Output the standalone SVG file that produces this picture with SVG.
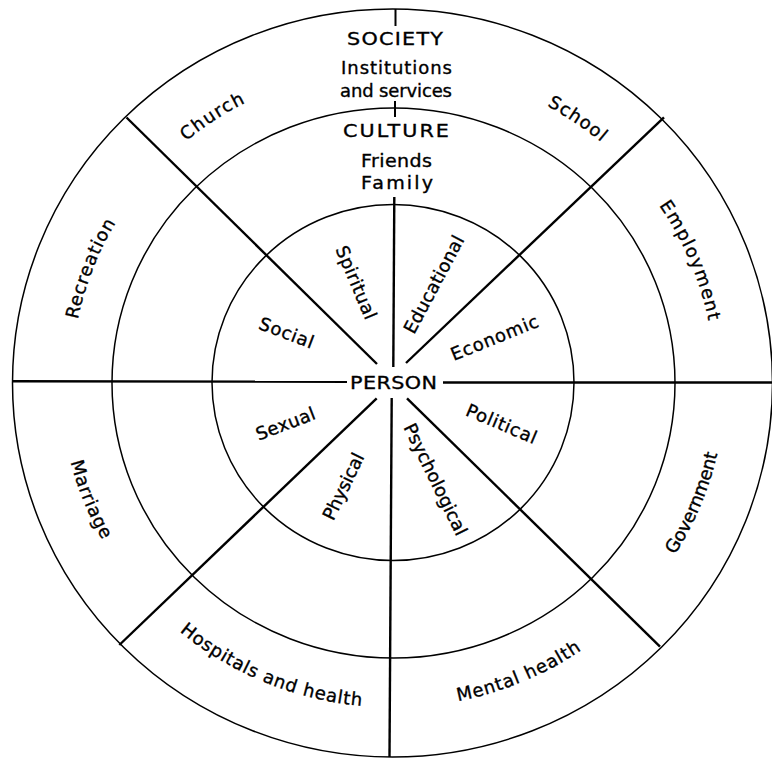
<svg xmlns="http://www.w3.org/2000/svg" width="772" height="761" viewBox="0 0 772 761">
  <style>
    .ring { fill: none; stroke: #000; stroke-width: 1.5; }
    .rule { fill: none; stroke: #000; stroke-width: 2.4; }
    .tick { fill: none; stroke: #000; stroke-width: 2; }
    text { font-family: "DejaVu Sans", "Liberation Sans", sans-serif; font-size: 18px; fill: #000; stroke: #000; stroke-width: 0.35px; text-anchor: middle; }
  </style>
  <defs>
    <!-- baseline arcs for the outer ring labels (upper ones run clockwise, lower ones anticlockwise) -->
    <path id="arc-church" d="M72.3,403.9 A321.5,314.5 0 0 1 533.9,99.3"/>
    <path id="arc-school" d="M257.1,97.0 A321.5,314.5 0 0 1 713.3,409.4"/>
    <path id="arc-recreation" d="M144.2,581.2 A321.5,314.5 0 0 1 341.0,71.6"/>
    <path id="arc-employment" d="M436.4,70.4 A321.5,314.5 0 0 1 647.2,574.6"/>
    <path id="arc-marriage" d="M133.1,178.9 A332.5,325.5 0 0 0 343.3,703.8"/>
    <path id="arc-government" d="M438.7,704.4 A332.5,325.5 0 0 0 655.4,182.0"/>
    <path id="arc-hospitals" d="M63.1,422.2 A332.5,325.5 0 0 0 593.6,641.6"/>
    <path id="arc-mental" d="M194.3,643.0 A332.5,325.5 0 0 0 723.2,420.0"/>
  </defs>

  <rect width="772" height="761" fill="#fff"/>

  <!-- outer ring: society -->
  <g id="society">
    <ellipse class="ring" cx="392.5" cy="383" rx="380" ry="374"/>
    <text transform="translate(395,45) scale(1.15,1)" textLength="83.5" lengthAdjust="spacing">SOCIETY</text>
    <text x="396.5" y="74" textLength="111" lengthAdjust="spacing">Institutions</text>
    <text x="396" y="97" textLength="112" lengthAdjust="spacing">and services</text>
  </g>

  <!-- middle ring: culture -->
  <g id="culture">
    <ellipse class="ring" cx="393.5" cy="383" rx="281.5" ry="275"/>
    <text transform="translate(396,137) scale(1.15,1)" textLength="92" lengthAdjust="spacing">CULTURE</text>
    <text transform="translate(396.5,167) scale(1.06,1)" textLength="67" lengthAdjust="spacing">Friends</text>
    <text transform="translate(397,189) scale(1.06,1)" textLength="68" lengthAdjust="spacing">Family</text>
  </g>

  <!-- inner circle: person -->
  <g id="person">
    <ellipse class="ring" cx="393" cy="382.5" rx="181" ry="178"/>
    <text transform="translate(393.5,388.5) scale(1.15,1)" textLength="75.7" lengthAdjust="spacing">PERSON</text>
  </g>

  <!-- dividing lines -->
  <g id="connectors">
    <line class="tick" x1="395.5" y1="9" x2="395.5" y2="26"/>
    <line class="tick" x1="395" y1="101" x2="395" y2="117"/>
    <line class="rule" x1="394.3" y1="197" x2="393.3" y2="367"/>
    <line class="rule" x1="391.7" y1="398" x2="389.5" y2="757"/>
    <line class="rule" x1="12" y1="381.3" x2="347" y2="381.7"/>
    <line class="rule" x1="443" y1="382.5" x2="772" y2="382.5"/>
    <line class="rule" x1="126.5" y1="117.5" x2="377" y2="364"/>
    <line class="rule" x1="664" y1="117.3" x2="406" y2="363"/>
    <line class="rule" x1="376.7" y1="398.3" x2="119.3" y2="645"/>
    <line class="rule" x1="407" y1="398.3" x2="660" y2="646.7"/>
  </g>

  <!-- outer ring sectors -->
  <g id="church"><text style="letter-spacing:1.4px"><textPath href="#arc-church" startOffset="50%">Church</textPath></text></g>
  <g id="school"><text style="letter-spacing:1.1px"><textPath href="#arc-school" startOffset="50%">School</textPath></text></g>
  <g id="recreation"><text style="letter-spacing:0.9px"><textPath href="#arc-recreation" startOffset="50%">Recreation</textPath></text></g>
  <g id="employment"><text style="letter-spacing:1.4px"><textPath href="#arc-employment" startOffset="50%">Employment</textPath></text></g>
  <g id="marriage"><text style="letter-spacing:0.7px"><textPath href="#arc-marriage" startOffset="50%">Marriage</textPath></text></g>
  <g id="government"><text style="letter-spacing:-0.2px"><textPath href="#arc-government" startOffset="50%">Government</textPath></text></g>
  <g id="hospitals"><text style="letter-spacing:0.75px"><textPath href="#arc-hospitals" startOffset="50%">Hospitals and health</textPath></text></g>
  <g id="mental-health"><text style="letter-spacing:0.9px"><textPath href="#arc-mental" startOffset="50%">Mental health</textPath></text></g>

  <!-- inner circle sectors -->
  <g id="spiritual"><text transform="translate(355,283) rotate(67)" y="5" textLength="78" lengthAdjust="spacing">Spiritual</text></g>
  <g id="educational"><text transform="translate(435,285) rotate(-62)" y="5" textLength="108" lengthAdjust="spacing">Educational</text></g>
  <g id="social"><text transform="translate(286,334) rotate(21)" y="5" textLength="57" lengthAdjust="spacing">Social</text></g>
  <g id="economic"><text transform="translate(495,339) rotate(-22)" y="5" textLength="93" lengthAdjust="spacing">Economic</text></g>
  <g id="sexual"><text transform="translate(286,425) rotate(-21)" y="5" textLength="62" lengthAdjust="spacing">Sexual</text></g>
  <g id="political"><text transform="translate(501,425) rotate(23)" y="5" textLength="75" lengthAdjust="spacing">Political</text></g>
  <g id="physical"><text transform="translate(344.5,487) rotate(-64)" y="5" textLength="72" lengthAdjust="spacing">Physical</text></g>
  <g id="psychological"><text transform="translate(434.5,480) rotate(64)" y="5" textLength="122" lengthAdjust="spacing">Psychological</text></g>
</svg>
